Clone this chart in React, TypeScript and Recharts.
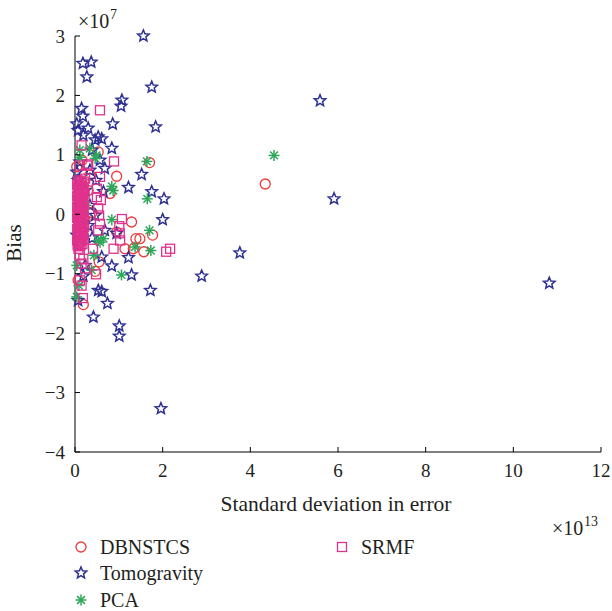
import React from 'react';
import { ScatterChart, Scatter, XAxis, YAxis } from 'recharts';

const xTicks = [0, 2, 4, 6, 8, 10, 12];
const yTicks = [-4, -3, -2, -1, 0, 1, 2, 3];

const dbnstcsPts = [
  [4.34, 0.51], [1.70, 0.87], [1.77, -0.35], [1.48, -0.41], [1.57, -0.63], [1.29, -0.13],
  [0.95, -0.30], [1.39, -0.41], [1.14, -0.58], [1.33, -0.58], [0.55, -0.80], [0.46, -0.96],
  [0.19, -1.52], [0.53, 1.05], [0.95, 0.64], [0.34, 0.66], [0.80, 0.35], [0.11, 0.24],
  [0.23, -0.10], [0.07, -0.44], [0.30, 0.40], [0.16, 0.91], [0.39, 0.03], [0.07, -1.11],
  [0.04, 0.80],
];

const tomogravityPts = [
  [1.56, 3.00], [0.18, 2.54], [0.37, 2.56], [0.27, 2.31], [1.75, 2.14], [1.07, 1.92],
  [1.05, 1.82], [0.15, 1.78], [0.18, 1.65], [0.04, 1.52], [0.86, 1.52], [1.84, 1.47],
  [5.59, 1.91], [5.91, 0.26], [3.76, -0.65], [2.89, -1.04], [10.82, -1.16], [1.52, 0.67],
  [1.75, 0.38], [2.03, 0.26], [2.00, -0.09], [1.72, -1.28], [1.96, -3.27], [0.53, -1.28],
  [0.61, -1.30], [0.74, -1.50], [0.42, -1.73], [1.01, -1.88], [1.01, -2.05], [0.61, -0.72],
  [1.22, -0.73], [0.84, -0.87], [1.29, -1.02], [0.19, -1.04], [0.53, 1.30], [0.61, 1.27],
  [0.46, 1.25], [0.19, 1.33], [0.84, 1.11], [0.68, 0.77], [1.22, 0.45], [0.65, 0.38],
  [0.95, -0.32], [0.11, 0.88], [0.04, 0.71], [0.07, 1.41], [0.30, 1.45], [0.39, 1.08],
  [0.23, 0.40], [0.34, 0.15], [0.11, 0.24], [0.46, -0.02], [0.30, -0.19], [0.39, -0.40],
  [0.11, -0.52], [0.57, 0.91], [0.48, 0.57], [0.68, -0.27], [0.23, -0.86], [0.07, -1.45],
  [0.16, 0.15], [0.07, 0.57], [0.34, 0.74], [0.04, -0.35],
];

const pcaPts = [
  [4.54, 0.99], [1.64, 0.89], [1.65, 0.26], [1.70, -0.27], [1.73, -0.61], [0.84, -0.09],
  [0.65, -0.41], [0.57, -0.47], [1.37, -0.55], [1.06, -1.02], [0.04, -1.39], [0.34, 1.11],
  [0.49, 0.99], [0.84, 0.47], [0.87, 0.40], [0.53, -0.44], [0.38, -0.94], [0.04, -0.86],
  [0.46, 0.94], [0.11, 0.96], [0.11, 1.08], [0.25, 0.15], [0.18, -0.27], [0.43, -0.69],
  [0.09, -1.20],
];

const srmfPts = [
  [0.57, 1.75], [0.15, 1.16], [0.89, 0.89], [0.30, 0.84], [0.57, 0.63], [0.59, 0.24],
  [1.07, -0.08], [1.01, -0.20], [1.02, -0.32], [1.03, -0.44], [0.88, -0.58], [0.41, -0.58],
  [2.08, -0.63], [2.17, -0.58], [0.48, -1.01], [0.11, -1.11], [0.15, -1.20], [0.18, -1.41],
  [0.08, -0.58], [0.11, -0.69], [0.19, -0.75], [0.55, -0.02], [0.57, -0.16], [0.11, 0.82],
  [0.08, 0.57], [0.23, 0.60], [0.50, 0.43], [0.50, 0.29], [0.53, 0.10], [0.53, -0.27],
  [0.15, -0.83], [0.23, -0.91], [0.28, 0.82],
  [0.05, 0.50], [0.12, 0.48], [0.19, 0.45], [0.08, 0.40], [0.15, 0.38], [0.22, 0.35],
  [0.05, 0.30], [0.11, 0.28], [0.18, 0.26], [0.08, 0.20], [0.14, 0.18], [0.21, 0.16],
  [0.05, 0.12], [0.11, 0.09], [0.17, 0.07], [0.08, 0.02], [0.14, 0.00], [0.20, -0.02],
  [0.05, -0.06], [0.11, -0.09], [0.17, -0.11], [0.08, -0.16], [0.14, -0.19], [0.21, -0.21],
  [0.05, -0.25], [0.11, -0.28], [0.18, -0.30], [0.08, -0.35], [0.14, -0.38], [0.20, -0.41],
  [0.05, -0.44], [0.11, -0.47], [0.17, -0.50], [0.08, -0.53], [0.14, 0.55], [0.06, -0.52],
  [0.20, 0.55],
  [0.09, 0.52], [0.16, 0.50], [0.06, 0.44], [0.13, 0.42], [0.19, 0.39], [0.09, 0.34],
  [0.16, 0.32], [0.07, 0.24], [0.13, 0.23], [0.19, 0.21], [0.09, 0.14], [0.15, 0.12],
  [0.06, 0.05], [0.12, 0.04], [0.18, 0.03], [0.09, -0.03], [0.15, -0.05], [0.07, -0.12],
  [0.13, -0.14], [0.19, -0.16], [0.10, -0.21], [0.16, -0.24], [0.07, -0.30], [0.13, -0.33],
  [0.19, -0.35], [0.10, -0.40], [0.16, -0.44], [0.07, -0.48], [0.13, -0.52],
];

const toRows = (pts: number[][]) => pts.map(([x, y]) => ({ x, y }));

const RED = '#ec3a3c';
const NAVY = '#2e3192';
const GREEN = '#2ea65a';
const MAGENTA = '#e0328c';
const FONT = '"Liberation Serif", "Times New Roman", serif';

const CircleMark = (props: any) => {
  const { cx, cy } = props;
  if (cx == null || cy == null) return null;
  return <circle cx={cx} cy={cy} r={5} fill="none" stroke={RED} strokeWidth={1.3} />;
};

const starPath = (cx: number, cy: number, ro: number, ri: number) => {
  const pts: string[] = [];
  for (let i = 0; i < 10; i++) {
    const r = i % 2 === 0 ? ro : ri;
    const a = -Math.PI / 2 + (i * Math.PI) / 5;
    pts.push(`${(cx + r * Math.cos(a)).toFixed(2)},${(cy + r * Math.sin(a)).toFixed(2)}`);
  }
  return pts.join(' ');
};

const StarMark = (props: any) => {
  const { cx, cy } = props;
  if (cx == null || cy == null) return null;
  return <polygon points={starPath(cx, cy, 6, 2.7)} fill="none" stroke={NAVY} strokeWidth={1.5} strokeLinejoin="miter" />;
};

const AsteriskMark = (props: any) => {
  const { cx, cy } = props;
  if (cx == null || cy == null) return null;
  const r = 5.5;
  const d = r * 0.707;
  return (
    <g stroke={GREEN} strokeWidth={1.5}>
      <line x1={cx - r} y1={cy} x2={cx + r} y2={cy} />
      <line x1={cx} y1={cy - r} x2={cx} y2={cy + r} />
      <line x1={cx - d} y1={cy - d} x2={cx + d} y2={cy + d} />
      <line x1={cx - d} y1={cy + d} x2={cx + d} y2={cy - d} />
    </g>
  );
};

const SquareMark = (props: any) => {
  const { cx, cy } = props;
  if (cx == null || cy == null) return null;
  return <rect x={cx - 4.5} y={cy - 4.5} width={9} height={9} fill="none" stroke={MAGENTA} strokeWidth={1.3} />;
};

const fmt = (v: number) => (v < 0 ? `\u2212${Math.abs(v)}` : `${v}`);

const XTick = (props: any) => {
  const { x, y, payload } = props;
  return (
    <g>
      <line x1={x} y1={y} x2={x} y2={y - 5} stroke="#000" strokeWidth={1} />
      <text x={x} y={y + 25} textAnchor="middle" fontFamily={FONT} fontSize={19} fill="#231f20">
        {fmt(payload.value)}
      </text>
    </g>
  );
};

const YTick = (props: any) => {
  const { x, y, payload } = props;
  return (
    <g>
      <line x1={x} y1={y} x2={x + 5} y2={y} stroke="#000" strokeWidth={1} />
      <text x={x - 10} y={y + 6.5} textAnchor="end" fontFamily={FONT} fontSize={19} fill="#231f20">
        {fmt(payload.value)}
      </text>
    </g>
  );
};

const legendItems = [
  { name: 'DBNSTCS', Mark: CircleMark, lx: 81, ly: 547 },
  { name: 'Tomogravity', Mark: StarMark, lx: 81, ly: 573 },
  { name: 'PCA', Mark: AsteriskMark, lx: 81, ly: 600 },
  { name: 'SRMF', Mark: SquareMark, lx: 342, ly: 547 },
];

export default function App() {
  return (
    <div style={{ position: 'absolute', left: 0, top: 0, width: 612, height: 611, background: '#fff' }}>
      <ScatterChart width={612} height={611} margin={{ top: 36, right: 11, bottom: 139, left: 55 }}>
        <XAxis
          type="number"
          dataKey="x"
          domain={[0, 12]}
          ticks={xTicks}
          interval={0}
          height={20}
          tickSize={0}
          tickMargin={0}
          tickLine={false}
          axisLine={{ stroke: '#000', strokeWidth: 1 }}
          tick={<XTick />}
        />
        <YAxis
          type="number"
          dataKey="y"
          domain={[-4, 3]}
          ticks={yTicks}
          interval={0}
          width={20}
          tickSize={0}
          tickMargin={0}
          tickLine={false}
          axisLine={{ stroke: '#000', strokeWidth: 1 }}
          tick={<YTick />}
        />
        <Scatter name="DBNSTCS" data={toRows(dbnstcsPts)} shape={<CircleMark />} isAnimationActive={false} />
        <Scatter name="Tomogravity" data={toRows(tomogravityPts)} shape={<StarMark />} isAnimationActive={false} />
        <Scatter name="PCA" data={toRows(pcaPts)} shape={<AsteriskMark />} isAnimationActive={false} />
        <Scatter name="SRMF" data={toRows(srmfPts)} shape={<SquareMark />} isAnimationActive={false} />
      </ScatterChart>
      <svg width={612} height={611} style={{ position: 'absolute', left: 0, top: 0, pointerEvents: 'none' }}>
        <g fontFamily={FONT} fill="#231f20">
          <text x={78} y={28} fontSize={20}>×10</text>
          <text x={110} y={19} fontSize={14}>7</text>
          <text x={0} y={0} fontSize={21} textAnchor="middle" transform="translate(21,243) rotate(-90)">Bias</text>
          <text x={336} y={511} fontSize={21.5} textAnchor="middle">Standard deviation in error</text>
          <text x={552} y={535} fontSize={20}>×10</text>
          <text x={584} y={526} fontSize={14}>13</text>
          {legendItems.map((it) => (
            <g key={it.name}>
              <it.Mark cx={it.lx} cy={it.ly} />
              <text x={it.lx + 19} y={it.ly + 7} fontSize={20}>{it.name}</text>
            </g>
          ))}
        </g>
      </svg>
    </div>
  );
}
